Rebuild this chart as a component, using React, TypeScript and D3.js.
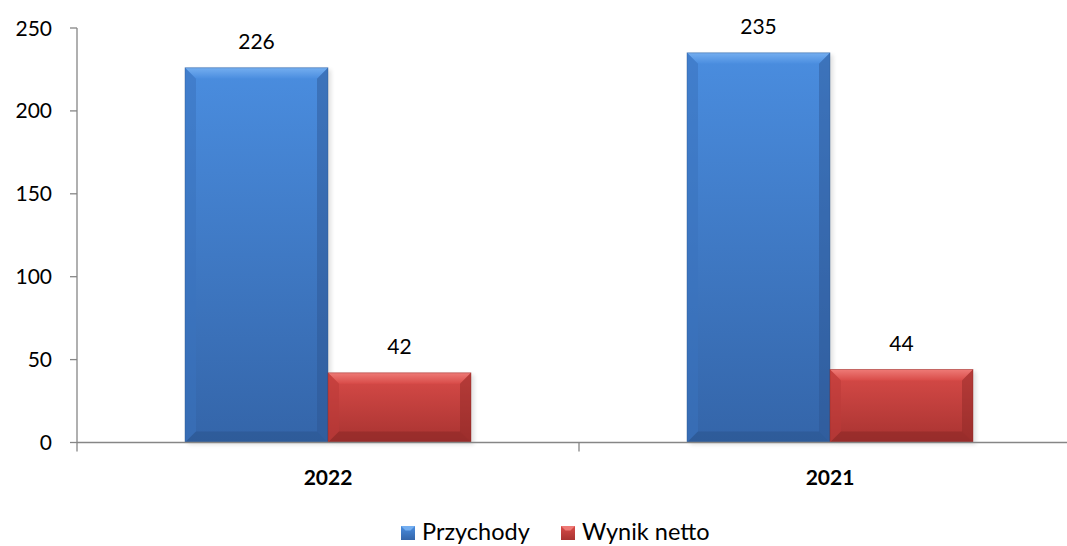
import React from "react";
import * as d3 from "d3";

const categories = ["2022", "2021"];
const seriesNames = ["Przychody", "Wynik netto"];
const przychody = [226, 235];
const wynikNetto = [42, 44];
const yTicks = [0, 50, 100, 150, 200, 250];

const W = 1067;
const H = 546;
const left = 77;
const top = 28;
const bottom = 442.5;
const rightEnd = 1081;

const palette = [
  { top: "#4a8ddf", bot: "#3465a9", light: "#74aef0", dark: "#2c5590", side: "#3a73bd" },
  { top: "#d84b48", bot: "#a83331", light: "#ee7a76", dark: "#8c2826", side: "#bb3b39" },
];

function Bar({ x, y, w, h, c, id }: any) {
  const b = Math.min(11, h / 2, w / 2);
  const x2 = x + w;
  const y2 = y + h;
  return (
    <g>
      <rect x={x + 3} y={y + 2} width={w} height={h} fill="#000" opacity={0.12} filter="url(#blur)" />
      <rect x={x} y={y} width={w} height={h} fill={`url(#g${id})`} />
      <polygon points={`${x},${y} ${x2},${y} ${x2 - b},${y + b} ${x + b},${y + b}`} fill={`url(#t${id})`} />
      <polygon points={`${x},${y} ${x + b},${y + b} ${x + b},${y2 - b} ${x},${y2}`} fill={c.side} opacity={0.55} />
      <polygon points={`${x2},${y} ${x2 - b},${y + b} ${x2 - b},${y2 - b} ${x2},${y2}`} fill={c.dark} opacity={0.45} />
      <polygon points={`${x},${y2} ${x + b},${y2 - b} ${x2 - b},${y2 - b} ${x2},${y2}`} fill={c.dark} opacity={0.6} />
      <rect x={x} y={y} width={w} height={h} fill="none" stroke={c.dark} strokeOpacity={0.5} strokeWidth={0.8} />
    </g>
  );
}

export default function App() {
  const y = d3.scaleLinear().domain([0, 250]).range([bottom, top]);
  const x0 = d3.scaleBand<string>().domain(categories).range([left, rightEnd]).paddingInner(0).paddingOuter(0);
  const groupW = 286;
  const values = [przychody, wynikNetto];
  const font = "Lato, 'Open Sans', sans-serif";

  return (
    <svg width={W} height={H} style={{ position: "absolute", left: 0, top: 0 }} fontFamily={font}>
      <defs>
        <filter id="blur" x="-10%" y="-10%" width="120%" height="120%">
          <feGaussianBlur stdDeviation="2" />
        </filter>
        {palette.map((c, i) => (
          <React.Fragment key={i}>
            <linearGradient id={`g${i}`} x1="0" y1="0" x2="0" y2="1">
              <stop offset="0" stopColor={c.top} />
              <stop offset="1" stopColor={c.bot} />
            </linearGradient>
            <linearGradient id={`t${i}`} x1="0" y1="0" x2="0" y2="1">
              <stop offset="0" stopColor={c.light} />
              <stop offset="1" stopColor={c.top} />
            </linearGradient>
          </React.Fragment>
        ))}
      </defs>
      <rect width={W} height={H} fill="#fff" />

      {/* y axis */}
      <line x1={left} x2={left} y1={top} y2={bottom} stroke="#868686" strokeWidth={1.3} />
      {yTicks.map((t) => (
        <g key={t}>
          <line x1={left - 7} x2={left} y1={y(t)} y2={y(t)} stroke="#868686" strokeWidth={1.3} />
          <text x={52} y={y(t) + 7.5} textAnchor="end" fontSize={21} fill="#000">
            {t}
          </text>
        </g>
      ))}

      {/* bars */}
      {categories.map((cat, ci) => {
        const cx = (x0(cat) as number) + x0.bandwidth() / 2;
        const x1 = d3.scaleBand<string>().domain(seriesNames).range([cx - groupW / 2, cx + groupW / 2]).padding(0);
        return (
          <g key={cat}>
            {seriesNames.map((s, si) => {
              const v = values[si][ci];
              const bx = x1(s) as number;
              const bw = x1.bandwidth();
              return (
                <g key={s}>
                  <Bar x={bx} y={y(v)} w={bw} h={bottom - y(v)} c={palette[si]} id={si} />
                  <text x={bx + bw / 2} y={y(v) - 19} textAnchor="middle" fontSize={21} fill="#000">
                    {v}
                  </text>
                </g>
              );
            })}
            <text x={cx} y={484.5} textAnchor="middle" fontSize={21} fontWeight="bold" fill="#000">
              {cat}
            </text>
          </g>
        );
      })}

      {/* x axis */}
      <line x1={left} x2={W} y1={bottom} y2={bottom} stroke="#868686" strokeWidth={1.3} />
      {categories.map((cat, i) => {
        const xx = x0(cat) as number;
        return <line key={i} x1={xx} x2={xx} y1={bottom} y2={bottom + 9} stroke="#868686" strokeWidth={1.3} />;
      })}

      {/* legend */}
      {seriesNames.map((s, i) => {
        const lx = [401, 561][i];
        const c = palette[i];
        return (
          <g key={s}>
            <rect x={lx} y={526} width={14} height={14} fill={`url(#g${i})`} />
            <polygon points={`${lx},526 ${lx + 14},526 ${lx + 9.5},530.5 ${lx + 4.5},530.5`} fill={c.light} />
            <text x={lx + 21} y={539.5} fontSize={23.5} fill="#000">
              {s}
            </text>
          </g>
        );
      })}
    </svg>
  );
}
